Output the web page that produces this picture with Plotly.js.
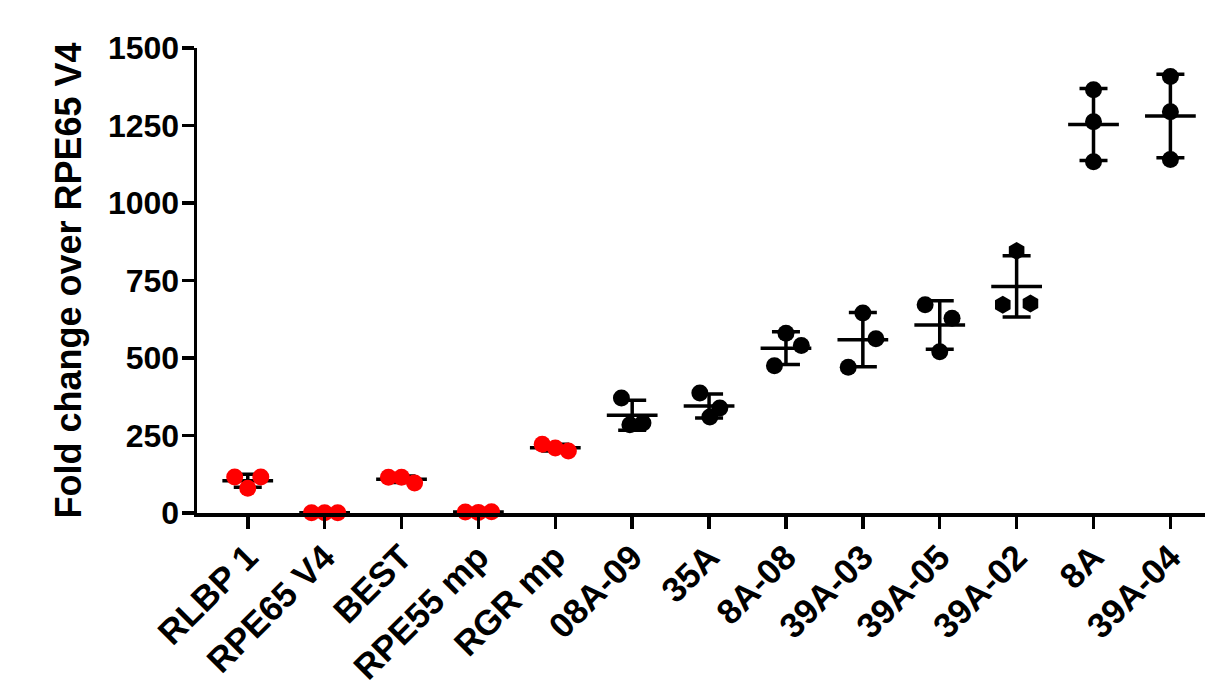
<!DOCTYPE html>
<html>
<head>
<meta charset="utf-8">
<script src="https://cdn.plot.ly/plotly-3.0.1.min.js"></script>
<style>html,body{margin:0;padding:0;background:#fff}#chart{width:1210px;height:698px}</style>
</head>
<body>
<div id="chart"></div>
<script>
// ---- data ----
const categories = ["RLBP 1","RPE65 V4","BEST","RPE55 mp","RGR mp","08A-09","35A","8A-08","39A-03","39A-05","39A-02","8A","39A-04"];
const rep1 = [116, 1, 115, 3, 222, 371, 387, 580, 645, 672, 845, 1365, 1408];
const rep2 = [116, 1, 97, 2, 200, 285, 339, 540, 562, 628, 672, 1262, 1294];
const rep3 = [80, 1, 115, 4, 210, 290, 310, 475, 470, 520, 676, 1133, 1140];
const groupColor = ["red","red","red","red","red","black","black","black","black","black","black","black","black"];
const groupSymbol = ["circle","circle","circle","circle","circle","circle","circle","circle","circle","circle","hexagon","circle","circle"];
// horizontal spread of the dots inside each column (category units)
const spread1 = [-0.17,-0.17,-0.17,-0.17,-0.17,-0.14, -0.12, 0.0, 0.0, -0.19, 0.0, 0, 0];
const spread2 = [ 0.17, 0.0, 0.17, 0.0, 0.17, -0.03, 0.14, 0.2, 0.17, 0.16, -0.18, 0, 0];
const spread3 = [ 0.0, 0.17, 0.0, 0.17, 0.0, 0.14, 0.01, -0.15, -0.19, 0.0, 0.18, 0, 0];

const idx = categories.map((c,i)=>i);
const reps = [rep1, rep2, rep3];
const spreads = [spread1, spread2, spread3];
const means = idx.map(i => reps.reduce((s,r)=>s+r[i],0)/reps.length);
const sds = idx.map(i => Math.sqrt(reps.reduce((s,r)=>s+Math.pow(r[i]-means[i],2),0)/(reps.length-1)));

const traces = [];
// mean lines
idx.forEach(i => {
  traces.push({type:'scatter', mode:'lines', x:[i-0.33, i+0.33], y:[means[i], means[i]],
    line:{color:'black', width:3.5}, hoverinfo:'skip', showlegend:false, cliponaxis:false});
});
// SD error bars
traces.push({type:'scatter', mode:'markers', x:idx, y:means,
  marker:{size:1, color:'rgba(0,0,0,0)'},
  error_y:{type:'data', array:sds, visible:true, color:'black', thickness:3.5, width:14},
  showlegend:false, hoverinfo:'skip', cliponaxis:false});
// dots
idx.forEach(i => {
  traces.push({type:'scatter', mode:'markers',
    x: spreads.map(s => i + s[i]), y: reps.map(r => r[i]),
    marker:{color:groupColor[i], size:groupSymbol[i]==='hexagon'?18:17, symbol:groupSymbol[i], line:{width:0}},
    showlegend:false, cliponaxis:false, name:categories[i]});
});

const fam = '"Liberation Sans", Arial, sans-serif';
const yTickFont = {family:fam, size:32, color:'black', weight:'bold'};
const xTickFont = {family:fam, size:35, color:'black', weight:'bold'};
const titleFont = {family:fam, size:36, color:'black', weight:'bold'};

const layout = {
  width:1210, height:698,
  margin:{l:197, r:5, t:48, b:185},
  paper_bgcolor:'white', plot_bgcolor:'white',
  showlegend:false,
  xaxis:{
    range:[-0.66, 12.45], tickmode:'array', tickvals:idx, ticktext:categories,
    tickangle:-45, showline:true, linecolor:'black', linewidth:3.5,
    ticks:'outside', ticklen:12, tickwidth:3.5, tickcolor:'black', ticklabelstandoff:-6,
    showgrid:false, zeroline:false, tickfont:xTickFont
  },
  yaxis:{
    range:[0,1500], tickmode:'array', tickvals:[0,250,500,750,1000,1250,1500],
    showline:true, linecolor:'black', linewidth:3.5,
    ticks:'outside', ticklen:12, tickwidth:3.5, tickcolor:'black', ticklabelstandoff:-4,
    showgrid:false, zeroline:false, tickfont:yTickFont,
    title:{text:'Fold change over RPE65 V4', font:titleFont, standoff:16}
  }
};
Plotly.newPlot('chart', traces, layout, {displayModeBar:false, staticPlot:true});
</script>
</body>
</html>
